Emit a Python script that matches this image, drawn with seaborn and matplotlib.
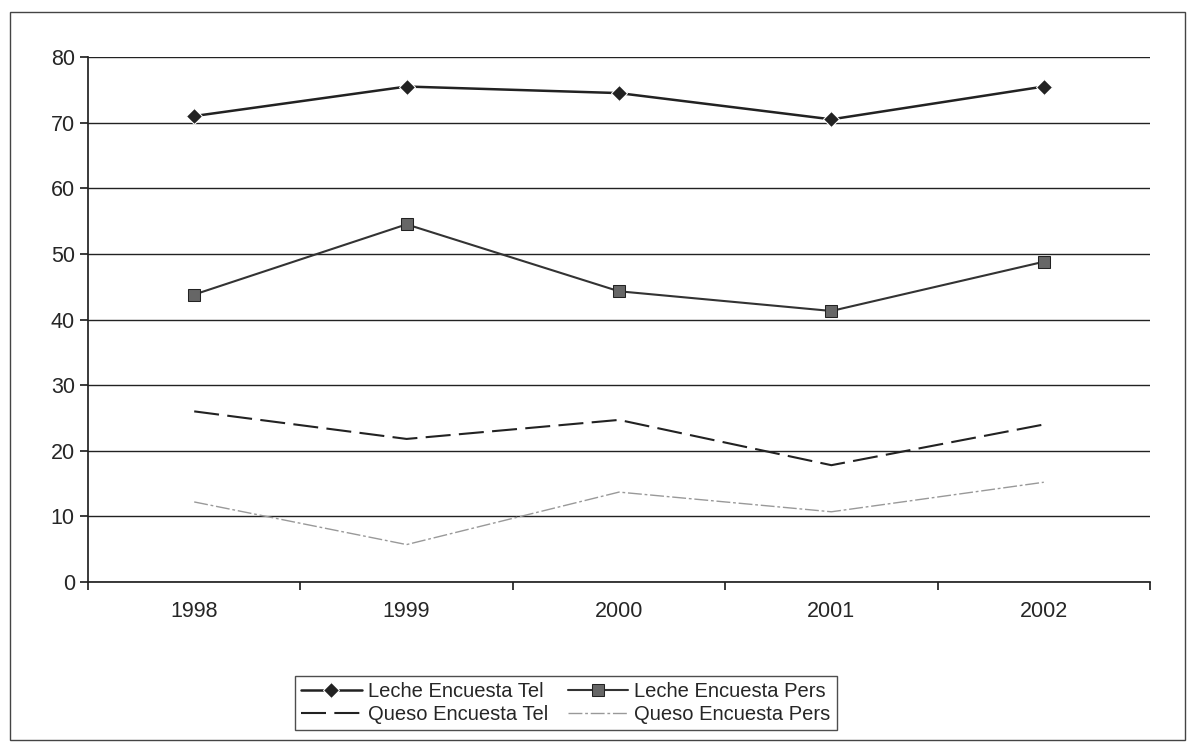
import matplotlib
matplotlib.use("Agg")
import matplotlib.pyplot as plt
import seaborn as sns

years = ["1998", "1999", "2000", "2001", "2002"]
leche_tel = [71, 75.5, 74.5, 70.5, 75.5]
leche_pers = [43.8, 54.5, 44.3, 41.3, 48.8]
queso_tel = [26, 21.8, 24.7, 17.8, 24]
queso_pers = [12.2, 5.7, 13.7, 10.7, 15.2]
series_names = ["Leche Encuesta Tel", "Leche Encuesta Pers", "Queso Encuesta Tel", "Queso Encuesta Pers"]

sns.set_theme(style="white")
plt.rcParams['font.family'] = ['Liberation Sans', 'DejaVu Sans']

fig = plt.figure(figsize=(11.91, 7.5), dpi=100)
ax = fig.add_axes([88/1191, 1-582/750, (1150-88)/1191, (582-57)/750])

styles = [
    dict(color="#222222", marker="D", markersize=8, lw=1.8, ls="-"),
    dict(color="#333333", marker="s", markersize=9, lw=1.5, ls="-", markerfacecolor="#666666", markeredgecolor="#222222"),
    dict(color="#222222", marker=None, lw=1.5, ls=(0, (12, 4))),
    dict(color="#999999", marker=None, lw=1.0, ls=(0, (10, 2, 2, 2))),
]
for name, vals, st in zip(series_names, [leche_tel, leche_pers, queso_tel, queso_pers], styles):
    sns.lineplot(x=list(range(5)), y=vals, ax=ax, label=name, **st)

ax.set_xlim(-0.5, 4.5)
ax.set_ylim(0, 80)
ax.set_yticks(range(0, 81, 10))
ax.set_xticks([x - 0.5 for x in range(6)], minor=False)
ax.set_xticklabels([])
ax.set_xticks(range(5), minor=True)
ax.set_xticklabels(years, minor=True, fontsize=15.5)
ax.tick_params(axis="x", which="minor", length=0, pad=14)
ax.tick_params(axis="x", which="major", length=6, direction="out", bottom=True, color="#222222")
ax.tick_params(axis="y", labelsize=15.5, length=6, direction="out", left=True, color="#222222")
ax.yaxis.grid(True, color="#222222", lw=1)
for s in ["top", "right"]:
    ax.spines[s].set_visible(False)
for s in ["left", "bottom"]:
    ax.spines[s].set_color("#222222")
ax.set_xlabel("")
ax.set_ylabel("")

h, l = ax.get_legend_handles_labels()
order = [0, 2, 1, 3]
leg = ax.legend([h[i] for i in order], [l[i] for i in order], loc="upper center",
                bbox_to_anchor=(0.45, -0.16), ncol=2, frameon=True,
                fontsize=14.5, fancybox=False, edgecolor="#222222", borderpad=0.3,
                handlelength=3, handletextpad=0.3, columnspacing=1.0, labelspacing=0.2)
leg.get_frame().set_linewidth(1)

fig.patches.append(plt.Rectangle((10/1191, 10/750), 1175/1191, 728/750, transform=fig.transFigure,
                                 fill=False, edgecolor="#444444", lw=1))
fig.savefig("out.png", dpi=100)
